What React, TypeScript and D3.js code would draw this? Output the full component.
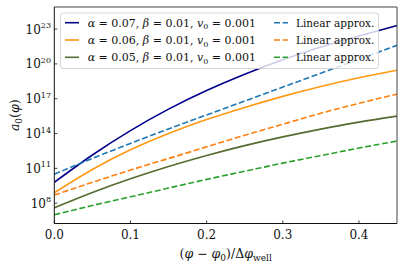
import * as d3 from 'd3';

// x positions, (phi - phi0) / dphi_well
const xs = [0, 0.05, 0.1, 0.15, 0.2, 0.25, 0.3, 0.35, 0.4, 0.45];

// log10 a0(phi)
const exact007 = [9.8, 12.15, 14.25, 16.1, 17.7, 19.1, 20.35, 21.45, 22.4, 23.3];
const exact006 = [8.9, 10.9, 12.6, 14.0, 15.2, 16.25, 17.2, 18.05, 18.8, 19.45];
const exact005 = [7.6, 8.92, 10.1, 11.16, 12.11, 12.96, 13.71, 14.38, 14.98, 15.5];
const linear007 = [10.5, 11.85, 13.15, 14.4, 15.6, 16.8, 18.0, 19.2, 20.4, 21.6];
const linear006 = [8.7, 9.8, 10.85, 11.85, 12.85, 13.85, 14.8, 15.75, 16.6, 17.4];
const linear005 = [7.0, 7.8, 8.55, 9.3, 10.05, 10.75, 11.45, 12.1, 12.75, 13.35];

const alphas = ['0.07', '0.06', '0.05'];
const xTicks = [0, 0.1, 0.2, 0.3, 0.4];
const yTickExps = [8, 11, 14, 17, 20, 23];

const W = 404;
const H = 269;
const font = "'DejaVu Serif', serif";

const x = d3.scaleLinear().domain([0, 0.45]).range([54.3, 397]);
const y = d3.scaleLog().domain([10 ** 6.25, 10 ** 24.9]).range([223.5, 7]);

const series = [
  { vals: exact007, color: '#00008b', dash: null },
  { vals: exact006, color: '#ff9914', dash: null },
  { vals: exact005, color: '#556b2f', dash: null },
  { vals: linear007, color: '#1f77b4', dash: '6,2.6' },
  { vals: linear006, color: '#ff7f0e', dash: '6,2.6' },
  { vals: linear005, color: '#2ca02c', dash: '6,2.6' },
];

const line = d3
  .line<number>()
  .x((_, i) => x(xs[i]))
  .y((d) => y(10 ** d))
  .curve(d3.curveNatural);

export default function App() {
  const [x0, x1] = x.range();
  const [yb, yt] = y.range();
  const rows = [22.7, 40, 57.3];

  return (
    <svg
      width={W}
      height={H}
      style={{ position: 'absolute', left: 0, top: 0, background: '#fff', fontFamily: font }}
    >
      <defs>
        <clipPath id="plot">
          <rect x={x0} y={yt} width={x1 - x0} height={yb - yt} />
        </clipPath>
      </defs>

      {/* curves */}
      <g clipPath="url(#plot)">
        {series.map((s, i) => (
          <path
            key={i}
            d={line(s.vals) || ''}
            fill="none"
            stroke={s.color}
            strokeWidth={1.6}
            strokeDasharray={s.dash || undefined}
          />
        ))}
      </g>

      {/* spines */}
      <line x1={x0} x2={x1} y1={yt} y2={yt} stroke="#444" strokeWidth={1} />
      <line x1={x1} x2={x1} y1={yt} y2={yb} stroke="#444" strokeWidth={1} />
      <line x1={x0} x2={x0} y1={yt} y2={yb} stroke="#111" strokeWidth={1} />
      <line x1={x0} x2={x1} y1={yb} y2={yb} stroke="#111" strokeWidth={1} />

      {/* x ticks */}
      {xTicks.map((t) => (
        <g key={t}>
          <line x1={x(t)} x2={x(t)} y1={yb} y2={yb - 3} stroke="#111" strokeWidth={0.8} />
          <text x={x(t)} y={239} fontSize={12} textAnchor="middle" fill="#111">
            {t.toFixed(1)}
          </text>
        </g>
      ))}

      {/* y ticks */}
      {yTickExps.map((e) => (
        <g key={e}>
          <line x1={x0} x2={x0 + 3} y1={y(10 ** e)} y2={y(10 ** e)} stroke="#111" strokeWidth={0.8} />
          <text x={51} y={y(10 ** e) + 4.5} fontSize={12} textAnchor="end" fill="#111">
            10
            <tspan fontSize={8} dy={-5.5}>
              {e}
            </tspan>
          </text>
        </g>
      ))}

      {/* axis labels */}
      <text x={(x0 + x1) / 2} y={258} fontSize={12.5} textAnchor="middle" fill="#111">
        (<tspan fontStyle="italic">φ</tspan> − <tspan fontStyle="italic">φ</tspan>
        <tspan fontSize={9} dy={3}>0</tspan>
        <tspan dy={-3}>)/Δ</tspan>
        <tspan fontStyle="italic">φ</tspan>
        <tspan fontSize={9} dy={3}>well</tspan>
      </text>
      <text
        transform={`translate(19,${(yt + yb) / 2}) rotate(-90)`}
        fontSize={12.5}
        textAnchor="middle"
        fill="#111"
      >
        <tspan fontStyle="italic">a</tspan>
        <tspan fontSize={9} dy={3}>0</tspan>
        <tspan dy={-3}>(</tspan>
        <tspan fontStyle="italic">φ</tspan>)
      </text>

      {/* legend */}
      <rect
        x={60.5}
        y={13}
        width={318}
        height={55.5}
        rx={2.5}
        fill="#fff"
        fillOpacity={0.8}
        stroke="#cccccc"
        strokeWidth={0.8}
      />
      {alphas.map((a, i) => (
        <g key={a}>
          <line
            x1={65}
            x2={79}
            y1={rows[i]}
            y2={rows[i]}
            stroke={series[i].color}
            strokeWidth={1.6}
          />
          <text x={87.7} y={rows[i] + 4} fontSize={11} fill="#111">
            <tspan fontStyle="italic">α</tspan> = {a}, <tspan fontStyle="italic">β</tspan> = 0.01,{' '}
            <tspan fontStyle="italic">v</tspan>
            <tspan fontSize={8} dy={2.5}>0</tspan>
            <tspan dy={-2.5}> = 0.001</tspan>
          </text>
          <line
            x1={274}
            x2={288}
            y1={rows[i]}
            y2={rows[i]}
            stroke={series[i + 3].color}
            strokeWidth={1.6}
            strokeDasharray="6,2.6"
          />
          <text x={296} y={rows[i] + 4} fontSize={10.5} fill="#111">
            Linear approx.
          </text>
        </g>
      ))}
    </svg>
  );
}
